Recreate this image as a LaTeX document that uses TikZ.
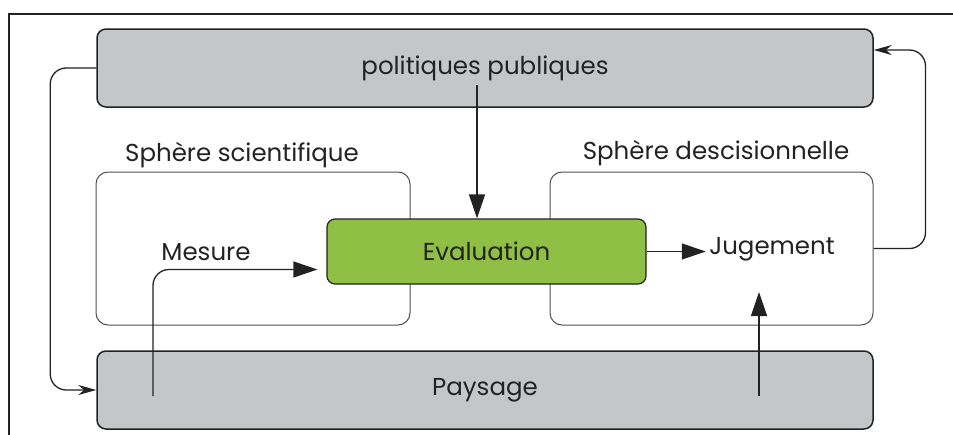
\documentclass[tikz,border=0pt]{standalone}
\usepackage{fontspec}
\setmainfont{Poppins}
\usepackage{tikz}
\usetikzlibrary{arrows.meta}
\definecolor{boxgray}{HTML}{C4C6C8}
\definecolor{evalgreen}{HTML}{8FBF45}
\definecolor{ink}{HTML}{222222}
\tikzset{
  bigbox/.style={draw=ink, line width=1.5pt, rounded corners=9pt, fill=boxgray, minimum width=776pt, minimum height=78pt},
  sphere/.style={draw=ink!80, line width=1pt, rounded corners=12pt, minimum height=153pt},
  label/.style={font=\fontsize{24.5}{28}\selectfont, text=ink},
  bigarrow/.style={-{Triangle[length=24pt,width=16pt]}, line width=1.3pt, ink},
  thinarrow/.style={-{Stealth[length=18pt,width=10pt]}, line width=1.3pt, ink, rounded corners=16pt}
}
\begin{document}
\begin{tikzpicture}[x=1pt,y=-1pt]
\useasboundingbox (0,0) rectangle (953,434);
\draw[line width=1.5pt, ink] (9,440) -- (9,14) -- (960,14);

\node[sphere, minimum width=314pt] (sci) at (253,248.5) {};
\node[sphere, minimum width=323pt] (dec) at (711.5,248.5) {};
\node[label] (scit) at (242,155) {Sphère scientifique};
\node[label] (dect) at (716,153) {Sphère descisionnelle};

\node[bigbox, label] (pol) at (485,68) {politiques publiques};
\node[bigbox, label] (pay) at (485,390) {Paysage};
\node[draw=ink, line width=1.2pt, rounded corners=8pt, fill=evalgreen, minimum width=319pt, minimum height=65pt, label] (eval) at (486.5,251.5) {Evaluation};

\node[label] (mes) at (206,252) {Mesure};
\node[label] (jug) at (772,249) {Jugement};

\coordinate (pstart) at (477,85);
\coordinate (mstart) at (153,396);
\coordinate (jstart) at (759,396);
\coordinate (jend) at (759,292);

\draw[bigarrow] (pstart) -- (pstart |- eval.north);
\draw[bigarrow, rounded corners=16pt] (mstart) |- ([xshift=-9pt,yshift=-18pt]eval.west);
\draw[bigarrow] (eval.east) -- (eval.east -| jug.west);
\draw[bigarrow] (jstart) -- (jend);
\draw[thinarrow] (pol.west) -- ++(-46,0) |- (pay.west);
\draw[thinarrow] (dec.east) -- ++(52,0) |- ([yshift=18pt]pol.east);
\end{tikzpicture}
\end{document}
